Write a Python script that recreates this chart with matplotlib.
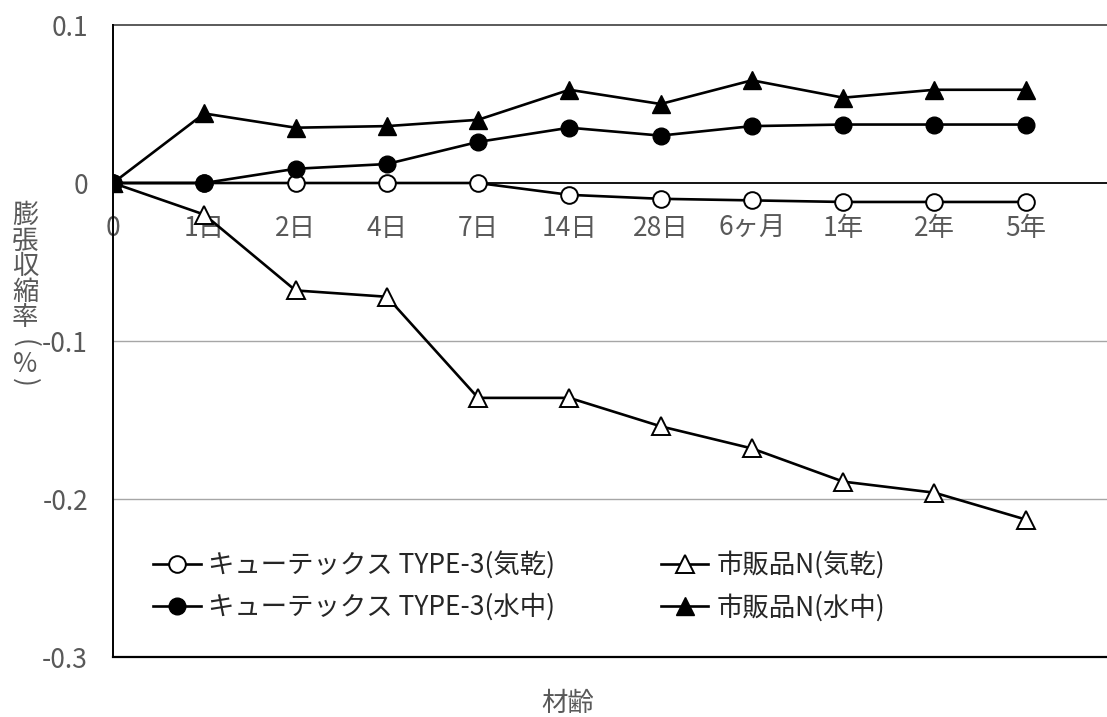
import matplotlib.pyplot as plt

plt.rcParams['font.family'] = ['Noto Sans CJK JP', 'DejaVu Sans']

# 材齢 categories
ages = ['0', '1日', '2日', '4日', '7日', '14日', '28日', '6ヶ月', '1年', '2年', '5年']

# 膨張収縮率 (%)
type3_air = [0, 0, 0, 0, 0, -0.0075, -0.010, -0.011, -0.012, -0.012, -0.012]
type3_water = [0, 0, 0.009, 0.012, 0.026, 0.035, 0.030, 0.036, 0.037, 0.037, 0.037]
n_air = [0, -0.020, -0.068, -0.072, -0.136, -0.136, -0.154, -0.168, -0.189, -0.196, -0.213]
n_water = [0, 0.044, 0.035, 0.036, 0.040, 0.059, 0.050, 0.065, 0.054, 0.059, 0.059]

txt = '#595959'
fs = 19
W, H = 1107, 717
fig = plt.figure(figsize=(W/100, H/100), dpi=100)
ax = fig.add_axes([113/W, 1 - 657/H, 1 - 113/W, (657 - 25)/H])

x = range(len(ages))
lw = 1.9
h_t3a, = ax.plot(x, type3_air, '-o', color='black', lw=lw, ms=12,
                 mfc='white', mec='black', mew=1.4, zorder=3,
                 label='キューテックス TYPE-3(気乾)')
h_na, = ax.plot(x, n_air, '-^', color='black', lw=lw, ms=13,
                mfc='white', mec='black', mew=1.4, zorder=3,
                label='市販品N(気乾)')
h_t3w, = ax.plot(x, type3_water, '-o', color='black', lw=lw, ms=12,
                 mfc='black', mec='black', zorder=4,
                 label='キューテックス TYPE-3(水中)')
h_nw, = ax.plot(x, n_water, '-^', color='black', lw=lw, ms=13,
                mfc='black', mec='black', zorder=4,
                label='市販品N(水中)')

ax.set_xlim(0, 10.89)
ax.set_ylim(-0.3, 0.1)

# grid and frame
for v in (-0.1, -0.2):
    ax.axhline(v, color='#a6a6a6', lw=1.0, zorder=1)
ax.axhline(-0.3, color='black', lw=1.6, zorder=2, clip_on=False)
ax.axhline(0.1, color='#5a5a5a', lw=1.4, zorder=2, clip_on=False)
ax.axhline(0, color='black', lw=1.3, zorder=2)

for s in ('top', 'right', 'bottom'):
    ax.spines[s].set_visible(False)
ax.spines['left'].set_color('black')
ax.spines['left'].set_linewidth(1.4)

ax.set_xticks(list(x))
ax.set_xticklabels(ages)
ax.set_yticks([0.1, 0, -0.1, -0.2, -0.3])
ax.set_yticklabels(['0.1', '0', '-0.1', '-0.2', '-0.3'])
ax.tick_params(axis='both', length=0, labelsize=fs, colors=txt)
ax.tick_params(axis='y', pad=18)

# category labels sit just under the zero line
ax.xaxis.set_ticks_position('bottom')
ax.spines['bottom'].set_position(('data', 0))
ax.tick_params(axis='x', pad=23)

# vertical axis title, one character per line
ychars = ['膨', '張', '収', '縮', '率', '(', '%', ')']
ypos = [215, 241, 266, 292, 318, 343, 364, 382]
for c, yp in zip(ychars, ypos):
    rot = -90 if c in '()' else 0
    fig.text(25/W, 1 - yp/H, c, ha='center', va='center', fontsize=fs,
             color=txt, rotation=rot)
fig.text(568/W, 1 - 703/H, '材齢', ha='center', va='center',
         fontsize=fs, color=txt)

leg = ax.legend(handles=[h_t3a, h_t3w, h_na, h_nw], ncol=2, frameon=False,
                loc='upper left', bbox_to_anchor=(153/W, 1 - 551/H),
                bbox_transform=fig.transFigure, fontsize=fs, numpoints=1,
                handlelength=1.8, handletextpad=0.3, labelspacing=0.55,
                columnspacing=4.0, borderaxespad=0, borderpad=0)
for t in leg.get_texts():
    t.set_color('#262626')

fig.savefig('out.png', dpi=100)
